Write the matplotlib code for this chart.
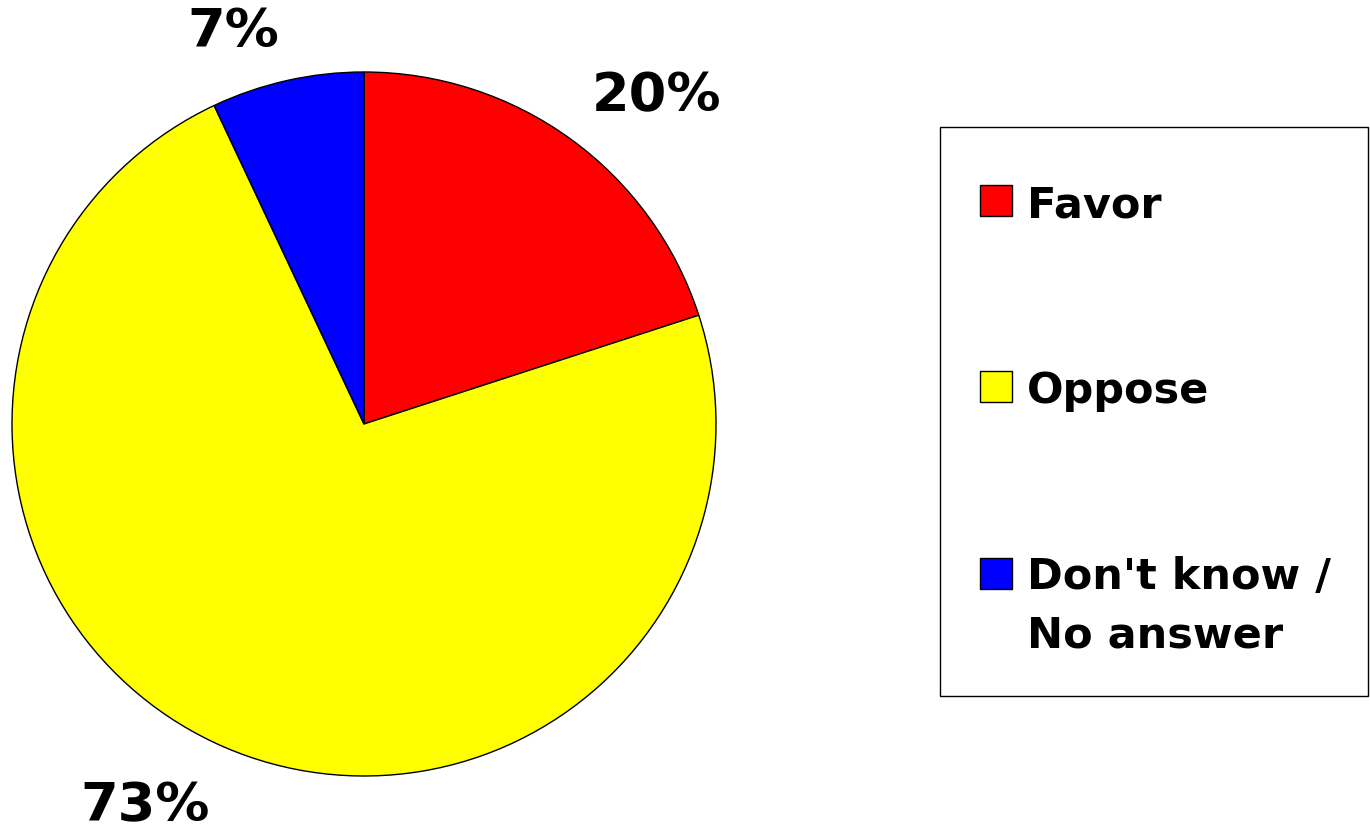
import numpy as np
import matplotlib.pyplot as plt
from matplotlib.patches import Rectangle

# survey answers
labels = ["Favor", "Oppose", "Don't know /\nNo answer"]
shares = [20, 73, 7]
colors = ["#ff0000", "#ffff00", "#0000ff"]

fig = plt.figure(figsize=(13.7, 8.29), dpi=100)
ax = fig.add_axes([12 / 1370, 52 / 829, 704 / 1370, 704 / 829])

wedges, texts, autotexts = ax.pie(
    shares, colors=colors, startangle=90, counterclock=False,
    autopct="%d%%", pctdistance=1.10,
    wedgeprops=dict(edgecolor="black", linewidth=1.0),
    textprops=dict(fontsize=39, fontweight="bold", family="DejaVu Sans"))
ax.set_xlim(-1, 1)
ax.set_ylim(-1, 1)
ax.set_aspect("equal")

# put each percentage just outside its slice, the way excel does it
for w, t in zip(wedges, autotexts):
    mid = np.deg2rad((w.theta1 + w.theta2) / 2)
    t.set_ha("left" if np.cos(mid) > 0 else "right")
    t.set_va("baseline" if np.sin(mid) > 0 else "top")

# legend box drawn by hand so it matches the original layout
fig.patches.append(Rectangle((940 / 1370, 1 - 697 / 829), 428 / 1370, 569 / 829,
                             transform=fig.transFigure, facecolor="white",
                             edgecolor="black", linewidth=1.0))
baselines = [217, 403, 590]
line_gap = 58
for lab, col, y in zip(labels, colors, baselines):
    fig.patches.append(Rectangle((980 / 1370, 1 - y / 829), 32 / 1370, 31 / 829,
                                 transform=fig.transFigure, facecolor=col,
                                 edgecolor="black", linewidth=1.0))
    # baseline alignment uses the last line, so push wrapped labels down
    last = y + line_gap * lab.count("\n")
    fig.text(1027 / 1370, 1 - last / 829, lab, fontsize=31, fontweight="bold",
             va="baseline", ha="left", linespacing=1.5)

fig.savefig("out.png", dpi=100)
